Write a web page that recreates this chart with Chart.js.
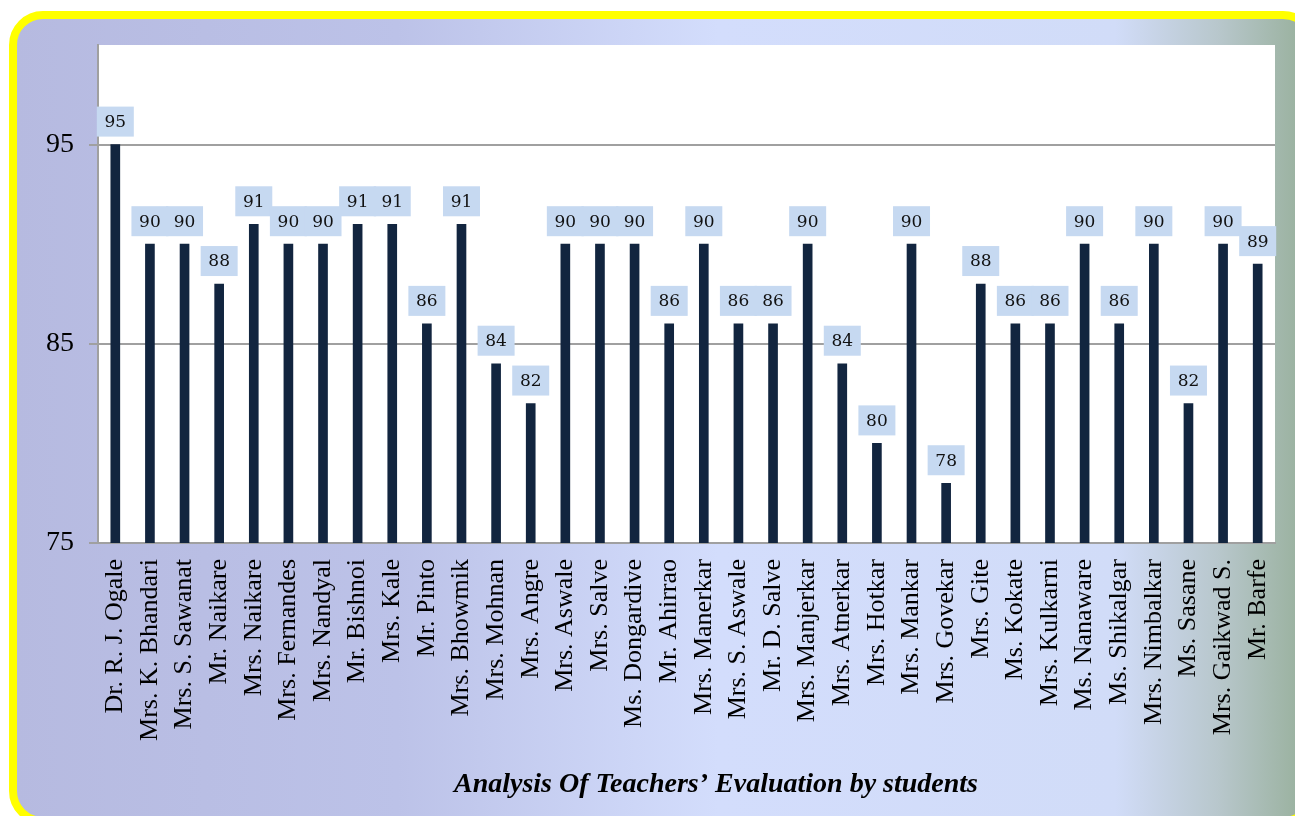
<!DOCTYPE html>
<html>
<head>
<meta charset="utf-8">
<script src="https://cdn.jsdelivr.net/npm/chart.js@4.4.0/dist/chart.umd.min.js"></script>
<style>
  html, body { margin: 0; padding: 0; background: #fff; }
  #wrap { width: 1295px; height: 816px; }
</style>
</head>
<body>
<div id="wrap"><canvas id="myChart" width="1295" height="816"></canvas></div>
<script>
// Teachers and their scores
var teachers = ["Dr. R. J. Ogale", "Mrs. K. Bhandari", "Mrs. S. Sawanat", "Mr. Naikare", "Mrs. Naikare",
    "Mrs. Fernandes", "Mrs. Nandyal", "Mr. Bishnoi", "Mrs. Kale", "Mr. Pinto", "Mrs. Bhowmik",
    "Mrs. Mohnan", "Mrs. Angre", "Mrs. Aswale", "Mrs. Salve", "Ms. Dongardive", "Mr. Ahirrao",
    "Mrs. Manerkar", "Mrs. S. Aswale", "Mr. D. Salve", "Mrs. Manjerkar", "Mrs. Atnerkar",
    "Mrs. Hotkar", "Mrs. Mankar", "Mrs. Govekar", "Mrs. Gite", "Ms. Kokate", "Mrs. Kulkarni",
    "Ms. Nanaware", "Ms. Shikalgar", "Mrs. Nimbalkar", "Ms. Sasane", "Mrs. Gaikwad S.", "Mr. Barfe"];
var scores = [95, 90, 90, 88, 91, 90, 90, 91, 91, 86, 91, 84, 82, 90, 90, 90, 86,
    90, 86, 86, 90, 84, 80, 90, 78, 88, 86, 86, 90, 86, 90, 82, 90, 89];
var yTicks = [75, 85, 95];
var chartTitle = "Analysis Of Teachers\u2019 Evaluation by students";

// frame + white plot area
var framePlugin = {
    id: 'frame',
    beforeDraw: function(chart) {
        var ctx = chart.ctx;
        var a = chart.chartArea;
        ctx.save();
        var g = ctx.createLinearGradient(13, 0, 1295, 0);
        g.addColorStop(0, '#b6bae0');
        g.addColorStop(0.3, '#bcc2e8');
        g.addColorStop(0.55, '#d3ddfc');
        g.addColorStop(0.86, '#d1dcf8');
        g.addColorStop(0.94, '#b8c7cc');
        g.addColorStop(1, '#9cb3a2');
        ctx.beginPath();
        ctx.roundRect(13, 15, 1300, 806, 30);
        ctx.fillStyle = g;
        ctx.fill();
        ctx.lineWidth = 8;
        ctx.strokeStyle = '#ffff00';
        ctx.stroke();
        ctx.fillStyle = '#ffffff';
        ctx.fillRect(a.left, a.top, a.right - a.left, a.bottom - a.top);
        ctx.restore();
    },
    afterDraw: function(chart) {
        // title sits a bit right of centre in the original
        var ctx = chart.ctx;
        ctx.save();
        ctx.font = 'italic bold 28px "Liberation Serif", serif';
        ctx.fillStyle = '#000';
        ctx.textAlign = 'center';
        ctx.textBaseline = 'middle';
        ctx.fillText(chartTitle, 716, 785);
        ctx.restore();
    }
};

// value boxes above each bar
var boxPlugin = {
    id: 'boxes',
    afterDatasetsDraw: function(chart) {
        var ctx = chart.ctx;
        var meta = chart.getDatasetMeta(0);
        ctx.save();
        ctx.font = '17px "DejaVu Serif", "Liberation Serif", serif';
        ctx.textAlign = 'center';
        ctx.textBaseline = 'middle';
        meta.data.forEach(function(bar, i) {
            var x = bar.x, y = bar.y;
            ctx.fillStyle = '#c6d9f1';
            ctx.fillRect(x - 18.5, y - 38, 37, 30);
            ctx.fillStyle = '#111111';
            ctx.fillText(String(scores[i]), x, y - 22);
        });
        ctx.restore();
    }
};

var chart = new Chart(document.getElementById('myChart'), {
    type: 'bar',
    data: {
        labels: teachers,
        datasets: [{
            data: scores,
            backgroundColor: '#12253f',
            barThickness: 9
        }]
    },
    options: {
        responsive: false,
        animation: false,
        layout: { padding: { left: 20, right: 20, top: 45, bottom: 0 } },
        plugins: {
            legend: { display: false },
            tooltip: { enabled: false },
            title: { display: false }
        },
        scales: {
            x: {
                grid: { display: false, drawTicks: false },
                border: { display: true, color: '#a0a0a0', width: 2 },
                ticks: {
                    color: '#000',
                    minRotation: 90, maxRotation: 90,
                    autoSkip: false,
                    padding: 16,
                    font: { family: '"Liberation Serif", serif', size: 26 }
                },
                afterFit: function(s) {
                    s.height = 273;
                    s.paddingLeft = 0;
                    s.paddingRight = 0;
                }
            },
            y: {
                min: 75, max: 100,
                grid: { color: '#a0a0a0', lineWidth: 2, tickLength: 9 },
                border: { display: true, color: '#a0a0a0', width: 2 },
                afterBuildTicks: function(s) {
                    s.ticks = yTicks.map(function(v) { return { value: v }; });
                },
                ticks: {
                    color: '#000',
                    padding: 15,
                    font: { family: '"Liberation Serif", serif', size: 28 }
                },
                afterFit: function(s) { s.width = 78; }
            }
        }
    },
    plugins: [framePlugin, boxPlugin]
});
</script>
</body>
</html>
